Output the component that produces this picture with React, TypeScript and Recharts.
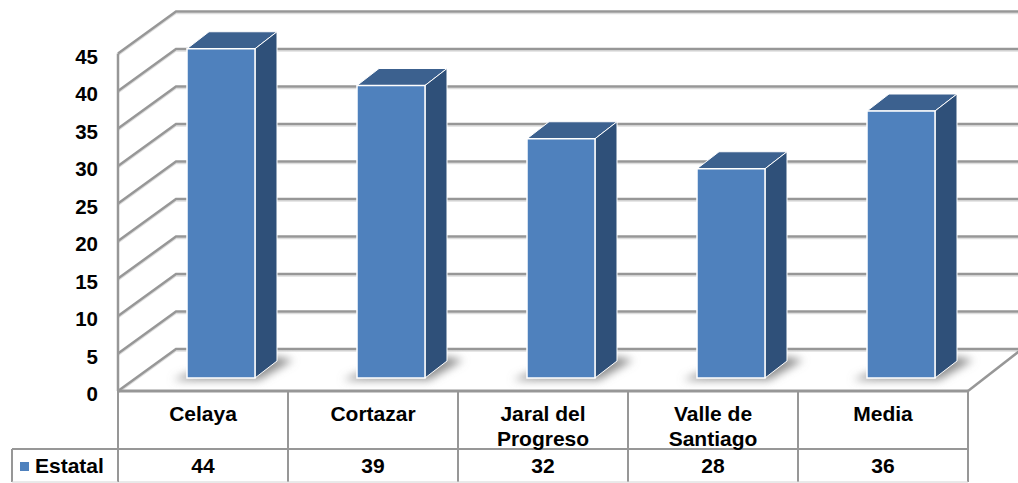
import { BarChart, Bar, XAxis, YAxis, CartesianGrid } from 'recharts'

const categories = ['Celaya', 'Cortazar', 'Jaral del Progreso', 'Valle de Santiago', 'Media']
const estatal = [43.9, 39, 31.9, 27.9, 35.6]
const yTicks = [0, 5, 10, 15, 20, 25, 30, 35, 40, 45]
const seriesName = 'Estatal'

const chartData = categories.map((name, i) => ({ name, value: estatal[i] }))

const FONT = '"Liberation Sans", Arial, sans-serif'
const GRID = '#979797'
const WALL_DX = 58
const WALL_DY = 42
const BAR_DX = 18
const BAR_DY = 13
const DEPTH_X = 22
const DEPTH_Y = 17
const FLOOR_Y = 391
const ROW_Y = 449
const BOTTOM_Y = 482

const GridLine = (props: any) => {
  const { x1, x2, y1 } = props
  const backY = y1 - WALL_DY
  const backX = x1 + WALL_DX
  return (
    <g>
      <polyline points={`${x1},${y1 + 2} ${backX},${backY + 2} 1018,${backY + 2}`} fill="none" stroke="#dedede" strokeWidth={1.5} />
      <polyline points={`${x1},${y1} ${backX},${backY} 1018,${backY}`} fill="none" stroke={GRID} strokeWidth={2.5} />
      {y1 >= FLOOR_Y - 1 && (
        <line x1={x2} y1={y1} x2={x2 + 54} y2={backY} stroke={GRID} strokeWidth={2.5} />
      )}
    </g>
  )
}

const Bar3D = (props: any) => {
  const { x, y, width, height } = props
  const left = x + BAR_DX
  const top = y - BAR_DY
  const right = left + width
  const base = top + height
  return (
    <g>
      <polygon
        points={`${left - 14},${base + 2} ${right + 4},${base + 2} ${right + DEPTH_X + 16},${base - DEPTH_Y - 1} ${right + DEPTH_X},${base - DEPTH_Y - 4} ${left},${base - 4}`}
        fill="#8f8f8f"
        filter="url(#floorShadow)"
      />
      <polygon
        points={`${left},${top} ${left + DEPTH_X},${top - DEPTH_Y} ${right + DEPTH_X},${top - DEPTH_Y} ${right},${top}`}
        fill="#3c618f"
        stroke="#fff"
        strokeWidth={1}
      />
      <polygon
        points={`${right},${top} ${right + DEPTH_X},${top - DEPTH_Y} ${right + DEPTH_X},${base - DEPTH_Y} ${right},${base}`}
        fill="#2f5079"
        stroke="#fff"
        strokeWidth={1}
      />
      <rect x={left} y={top} width={width} height={height} fill="#4f81bd" stroke="#fff" strokeWidth={1.5} />
    </g>
  )
}

const TableTick = (props: any) => {
  const { payload, index } = props
  const cx = payload.coordinate
  const half = payload.offset
  const words = String(payload.value).split(' ')
  const lines = words.length > 1 ? [words.slice(0, -1).join(' '), words[words.length - 1]] : words
  const textStyle = { fontFamily: FONT, fontSize: 21, fontWeight: 700, fill: '#000', textAnchor: 'middle' as const }
  return (
    <g>
      <line x1={cx + half} y1={FLOOR_Y} x2={cx + half} y2={BOTTOM_Y} stroke={GRID} strokeWidth={2} />
      <line x1={cx - half} y1={ROW_Y} x2={cx + half} y2={ROW_Y} stroke={GRID} strokeWidth={2} />
      <line x1={cx - half} y1={BOTTOM_Y} x2={cx + half} y2={BOTTOM_Y} stroke="#d4d4d4" strokeWidth={1} />
      {lines.map((line, i) => (
        <text key={line} x={cx} y={421 + i * 25} {...textStyle}>{line}</text>
      ))}
      <text x={cx} y={473} {...textStyle}>{Math.round(estatal[index])}</text>
      {index === 0 && (
        <g>
          <line x1={cx - half} y1={FLOOR_Y} x2={cx - half} y2={BOTTOM_Y} stroke={GRID} strokeWidth={2} />
          <line x1={12} y1={ROW_Y} x2={cx - half} y2={ROW_Y} stroke={GRID} strokeWidth={2} />
          <line x1={12} y1={ROW_Y} x2={12} y2={BOTTOM_Y} stroke={GRID} strokeWidth={2} />
          <line x1={12} y1={BOTTOM_Y} x2={cx - half} y2={BOTTOM_Y} stroke="#d4d4d4" strokeWidth={1} />
          <rect x={20} y={462} width={9} height={9} fill="#4f81bd" />
          <text x={35} y={473} {...textStyle} textAnchor="start">{seriesName}</text>
        </g>
      )}
    </g>
  )
}

export default function App() {
  return (
    <div style={{ position: 'absolute', left: 0, top: 0, width: 1018, height: 483, overflow: 'hidden', background: '#fff' }}>
      <BarChart
        width={1018}
        height={483}
        data={chartData}
        barCategoryGap="30%"
        margin={{ top: 53.5, right: 50, bottom: 0, left: 0 }}
      >
        <defs>
          <filter id="floorShadow" x="-40%" y="-80%" width="180%" height="260%">
            <feGaussianBlur stdDeviation="4.5" />
          </filter>
        </defs>
        <CartesianGrid vertical={false} horizontal={(p: any) => <GridLine key={p.key} {...p} />} />
        <XAxis
          dataKey="name"
          height={92}
          interval={0}
          tickLine={false}
          tickMargin={0}
          axisLine={{ stroke: GRID, strokeWidth: 3 }}
          tick={(p: any) => <TableTick {...p} />}
        />
        <YAxis
          width={118}
          domain={[0, 45]}
          ticks={yTicks}
          interval={0}
          tickLine={false}
          tickMargin={14}
          axisLine={{ stroke: GRID, strokeWidth: 2.5 }}
          tick={{ fontFamily: FONT, fontSize: 20.5, fontWeight: 700, fill: '#000', dy: 3 }}
        />
        <Bar dataKey="value" isAnimationActive={false} shape={(p: any) => <Bar3D {...p} />} />
      </BarChart>
    </div>
  )
}
